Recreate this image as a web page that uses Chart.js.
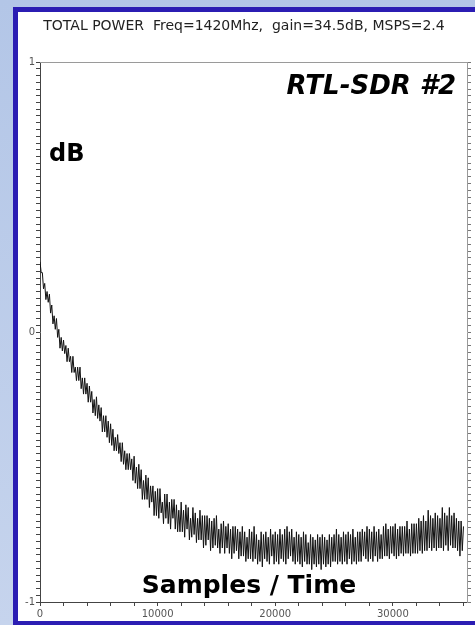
<!DOCTYPE html>
<html><head><meta charset="utf-8">
<script src="https://cdn.jsdelivr.net/npm/chart.js@4/dist/chart.umd.min.js"></script>
<style>html,body{margin:0;padding:0;background:#b9cbe9;overflow:hidden}canvas{display:block}</style>
</head><body>
<canvas id="c" width="475" height="625"></canvas>
<script>
const TITLE = 'TOTAL POWER  Freq=1420Mhz,  gain=34.5dB, MSPS=2.4';
const DEVICE_LABEL = 'RTL-SDR #2';
const Y_LABEL = 'dB';
const X_LABEL = 'Samples / Time';
const SAMPLE_STEP = 100;
const X_MAX = 36300;
const X_TICK_STEP = 2000;
const X_MAJOR = [0, 10000, 20000, 30000];
const Y_TICK_STEP = 0.025;
const Y_MAJOR = [-1, 0, 1];
const power = [
 0.26, 0.22, 0.22, 0.16, 0.18, 0.12, 0.15, 0.11, 0.14, 0.07, 0.10, 0.03, 0.06, 0.01, 0.05, -0.02, 0.01, -0.06, -0.02, -0.07,
 -0.03, -0.08, -0.05, -0.11, -0.06, -0.11, -0.09, -0.15, -0.09, -0.15, -0.13, -0.18, -0.13, -0.18, -0.13, -0.21, -0.17, -0.23, -0.17, -0.23,
 -0.19, -0.26, -0.20, -0.26, -0.22, -0.30, -0.25, -0.31, -0.24, -0.32, -0.27, -0.33, -0.28, -0.37, -0.31, -0.37, -0.31, -0.39, -0.33, -0.41,
 -0.34, -0.42, -0.36, -0.44, -0.39, -0.44, -0.38, -0.45, -0.41, -0.48, -0.41, -0.49, -0.44, -0.51, -0.45, -0.51, -0.45, -0.51, -0.47, -0.55,
 -0.46, -0.56, -0.50, -0.58, -0.49, -0.58, -0.51, -0.62, -0.55, -0.62, -0.53, -0.62, -0.54, -0.65, -0.57, -0.63, -0.57, -0.68, -0.59, -0.68,
 -0.58, -0.69, -0.58, -0.67, -0.63, -0.71, -0.60, -0.69, -0.60, -0.71, -0.63, -0.73, -0.62, -0.69, -0.62, -0.73, -0.64, -0.74, -0.66, -0.74,
 -0.63, -0.74, -0.66, -0.76, -0.64, -0.73, -0.65, -0.77, -0.69, -0.76, -0.65, -0.75, -0.67, -0.78, -0.69, -0.77, -0.66, -0.77, -0.68, -0.80,
 -0.68, -0.79, -0.68, -0.77, -0.69, -0.81, -0.70, -0.80, -0.69, -0.79, -0.68, -0.80, -0.73, -0.82, -0.71, -0.80, -0.70, -0.82, -0.72, -0.80,
 -0.71, -0.82, -0.73, -0.84, -0.72, -0.82, -0.72, -0.81, -0.73, -0.84, -0.74, -0.83, -0.72, -0.83, -0.74, -0.85, -0.76, -0.84, -0.73, -0.84,
 -0.74, -0.85, -0.72, -0.84, -0.75, -0.86, -0.77, -0.85, -0.74, -0.87, -0.75, -0.84, -0.74, -0.85, -0.76, -0.86, -0.73, -0.83, -0.75, -0.86,
 -0.74, -0.85, -0.75, -0.86, -0.73, -0.84, -0.75, -0.85, -0.73, -0.86, -0.72, -0.84, -0.74, -0.83, -0.73, -0.85, -0.76, -0.86, -0.74, -0.85,
 -0.75, -0.86, -0.76, -0.87, -0.74, -0.85, -0.75, -0.86, -0.78, -0.86, -0.75, -0.88, -0.76, -0.86, -0.77, -0.87, -0.75, -0.86, -0.76, -0.88,
 -0.75, -0.86, -0.76, -0.87, -0.77, -0.86, -0.75, -0.87, -0.76, -0.85, -0.75, -0.85, -0.73, -0.86, -0.75, -0.85, -0.76, -0.86, -0.74, -0.85,
 -0.75, -0.86, -0.74, -0.84, -0.75, -0.86, -0.73, -0.85, -0.76, -0.86, -0.74, -0.85, -0.74, -0.85, -0.73, -0.83, -0.74, -0.84, -0.72, -0.85,
 -0.73, -0.84, -0.74, -0.85, -0.72, -0.83, -0.74, -0.85, -0.73, -0.84, -0.75, -0.84, -0.72, -0.83, -0.71, -0.83, -0.73, -0.84, -0.72, -0.82,
 -0.72, -0.83, -0.71, -0.84, -0.73, -0.83, -0.72, -0.82, -0.72, -0.83, -0.72, -0.82, -0.70, -0.82, -0.73, -0.83, -0.71, -0.82, -0.71, -0.82,
 -0.71, -0.82, -0.69, -0.81, -0.70, -0.82, -0.68, -0.81, -0.70, -0.81, -0.66, -0.80, -0.68, -0.81, -0.69, -0.80, -0.67, -0.81, -0.68, -0.80,
 -0.69, -0.80, -0.65, -0.81, -0.67, -0.79, -0.68, -0.81, -0.65, -0.79, -0.68, -0.80, -0.67, -0.80, -0.69, -0.81, -0.70, -0.83, -0.70, -0.81, -0.72
];

const points = power.map((v, i) => ({ x: i * SAMPLE_STEP, y: v }));
const isMajor = (v, list) => list.some(m => Math.abs(m - v) < 1e-6);
function xTicks(scale) {
  const t = [];
  for (let v = 0; v <= X_MAX; v += X_TICK_STEP) t.push({ value: v });
  scale.ticks = t;
}
function yTicks(scale) {
  const t = [];
  const n = Math.round((scale.max - scale.min) / Y_TICK_STEP);
  for (let k = 0; k <= n; k++) t.push({ value: +(scale.min + k * Y_TICK_STEP).toFixed(4) });
  scale.ticks = t;
}

const frame = {
  id: 'frame',
  beforeDraw(chart) {
    const ctx = chart.ctx;
    const g = ctx.createLinearGradient(0, 0, 0, 625);
    g.addColorStop(0, '#b3c6e7');
    g.addColorStop(1, '#c6d4ed');
    ctx.save();
    ctx.fillStyle = g;
    ctx.fillRect(0, 0, 475, 625);
    ctx.fillStyle = '#2b1db3';
    ctx.fillRect(13, 7, 462, 618);
    ctx.fillStyle = '#ffffff';
    ctx.fillRect(18, 12, 457, 609);
    ctx.restore();
  },
  afterDraw(chart) {
    const ctx = chart.ctx, a = chart.chartArea;
    ctx.save();
    ctx.strokeStyle = '#9a9a9a';
    ctx.lineWidth = 1;
    ctx.beginPath();
    ctx.moveTo(a.left, a.top + 0.5);
    ctx.lineTo(a.right, a.top + 0.5);
    ctx.stroke();
    ctx.fillStyle = '#222';
    ctx.font = '14px "DejaVu Sans"';
    ctx.textAlign = 'center';
    ctx.textBaseline = 'middle';
    ctx.fillText(TITLE, 244, 26);
    ctx.fillStyle = '#000';
    ctx.font = 'italic bold 26px "DejaVu Sans"';
    ctx.textAlign = 'right';
    ctx.textBaseline = 'alphabetic';
    ctx.fillText(DEVICE_LABEL, 456, 94);
    ctx.font = 'bold 24px "DejaVu Sans"';
    ctx.textAlign = 'left';
    ctx.fillText(Y_LABEL, 49, 161);
    ctx.font = 'bold 25px "DejaVu Sans"';
    ctx.textAlign = 'center';
    ctx.fillText(X_LABEL, 249, 593);
    ctx.restore();
  }
};

new Chart(document.getElementById('c'), {
  type: 'line',
  data: { datasets: [{ data: points, borderColor: '#111111', borderWidth: 1, pointRadius: 0, tension: 0, fill: false }] },
  options: {
    responsive: false,
    animation: false,
    layout: { padding: { top: 62, left: 0, right: 0, bottom: 0 } },
    plugins: { legend: { display: false }, tooltip: { enabled: false }, title: { display: false } },
    scales: {
      x: {
        type: 'linear', min: 0, max: X_MAX,
        afterBuildTicks: xTicks,
        afterFit(s) { s.height = 23; },
        border: { display: true, color: '#444' },
        grid: { drawOnChartArea: false, drawTicks: true, tickLength: 4, color: '#444' },
        ticks: { autoSkip: false, maxRotation: 0, minRotation: 0, padding: 2, color: '#555',
          font: { family: 'DejaVu Sans', size: 10 },
          callback: v => isMajor(v, X_MAJOR) ? String(Math.round(v)) : '' }
      },
      y: {
        type: 'linear', min: -1, max: 1, position: 'left',
        afterBuildTicks: yTicks,
        afterFit(s) { s.width = 40; },
        border: { display: true, color: '#444' },
        grid: { drawOnChartArea: false, drawTicks: true, tickLength: 4, color: '#444' },
        ticks: { autoSkip: false, padding: 1, color: '#555',
          font: { family: 'DejaVu Sans', size: 10 },
          callback: v => isMajor(v, Y_MAJOR) ? String(Math.round(v)) : '' }
      },
      y2: {
        type: 'linear', min: -1, max: 1, position: 'right',
        afterBuildTicks: yTicks,
        afterFit(s) { s.width = 8; },
        border: { display: true, color: '#9a9a9a' },
        grid: { drawOnChartArea: false, drawTicks: true, tickLength: 4, color: '#777' },
        ticks: { autoSkip: false, display: false }
      }
    }
  },
  plugins: [frame]
});
</script>
</body></html>
